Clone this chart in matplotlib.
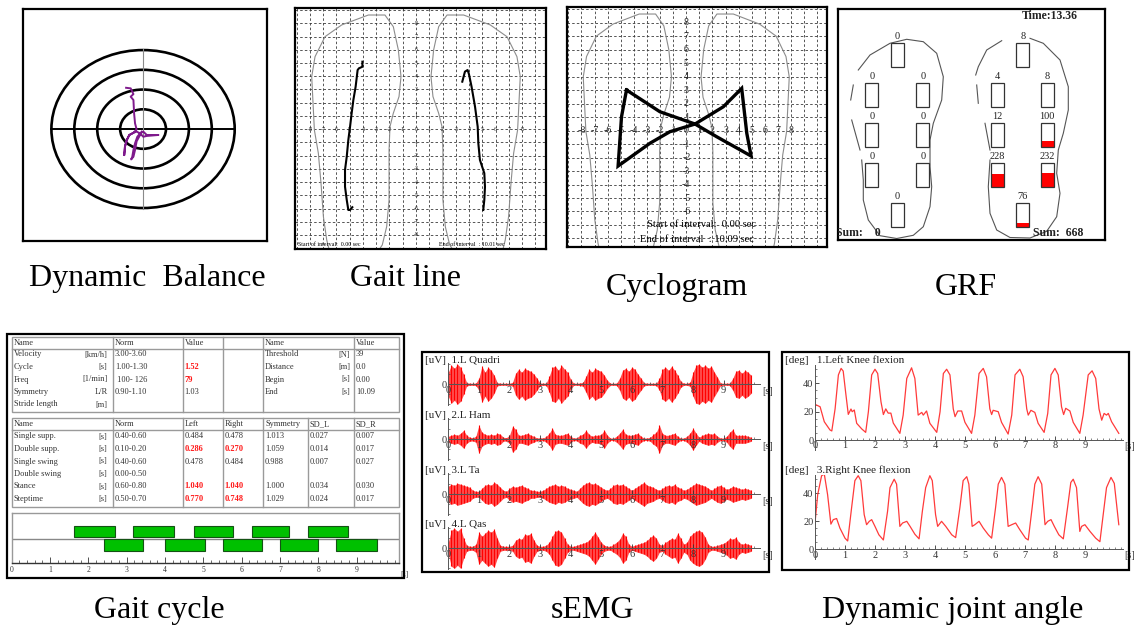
import numpy as np
import matplotlib
matplotlib.use("Agg")
import matplotlib.pyplot as plt
from matplotlib.patches import Rectangle, Ellipse
from matplotlib.ticker import MultipleLocator

# ------------------------------------------------------------------ data
# Dynamic balance: centre-of-pressure trace (ring units)
balance_rings = [1, 2, 3, 4]
cop_x = [-0.74, -0.54, -0.42, -0.54, -0.42, -0.39, -0.35, -0.28, -0.42, -0.60, -0.71, -0.79, -0.82,
         -0.79, -0.71, -0.60, -0.42, -0.28, -0.13, 0.01, 0.16, 0.45, 0.67, 0.16, 0.01, -0.13, -0.25,
         -0.35, -0.42, -0.47, -0.52, -0.42, -0.35, -0.28, -0.13, -0.06]
cop_y = [2.09, 2.06, 1.77, 1.64, 1.47, 0.79, 0.29, -0.02, -0.19, -0.30, -0.56, -0.89, -1.32,
         -0.89, -0.56, -0.30, -0.19, -0.13, -0.22, -0.13, -0.30, -0.30, -0.30, -0.35, -0.39, -0.22, -0.39,
         -0.72, -1.06, -1.40, -1.54, -1.40, -1.06, -0.62, -0.30, -0.13]

# Left insole outline (right insole is its mirror image)
sole_x = [-6.45, -6.73, -6.98, -7.16, -7.36, -7.66, -7.86, -7.61, -6.86, -5.60, -3.59, -2.34, -1.71,
          -1.33, -1.13, -1.28, -1.71, -1.96, -2.03, -2.03, -2.21, -2.54, -3.10, -4.60, -6.45]
sole_y = [-9.50, -8.37, -6.61, -4.09, -1.82, -0.06, 3.97, 5.48, 6.99, 7.88, 8.63, 8.63, 7.75,
          5.99, 3.97, 2.46, 1.20, 0.19, -1.57, -5.35, -7.37, -8.75, -9.60, -10.2, -9.50]

# Gait line (centre of pressure path under each foot)
gait_left_x = [-4.04, -4.04, -4.30, -4.40, -4.55, -4.72, -4.85, -4.97, -5.10, -5.22, -5.35, -5.35, -5.22, -5.10, -4.97, -4.80]
gait_left_y = [5.10, 4.72, 4.60, 4.47, 3.21, 2.21, 1.20, 0.19, -0.82, -2.08, -3.08, -4.35, -5.35, -6.11, -6.11, -5.90]
gait_right_x = [3.49, 3.69, 3.89, 3.99, 4.19, 4.45, 4.65, 4.70, 4.82, 5.15, 5.20, 5.15, 5.07]
gait_right_y = [3.59, 4.35, 4.47, 4.17, 3.21, 1.70, 0.19, -1.07, -2.33, -3.33, -4.35, -5.35, -6.11]

# Cyclogram (butterfly diagram)
cyclo_x = [-4.56, -2.01, 0.67, 2.32, 4.95, 4.62, 4.23, 2.83, 0.67, -1.25, -2.78, -5.20, -4.94, -4.56]
cyclo_y = [3.00, 1.39, 0.48, -0.46, -1.89, -0.21, 3.12, 1.76, 0.48, -0.09, -0.95, -2.63, 1.02, 3.00]

# Ground reaction force per insole sensor [N]
grf_left = [0, 0, 0, 0, 0, 0, 0, 0]
grf_right = [8, 4, 8, 12, 100, 228, 232, 76]
grf_full_scale = 400
grf_time = "13.36"

# Gait cycle tables
t1_rows = [("Velocity", "[km/h]", "3.00-3.60", ""),
           ("Cycle", "[s]", "1.00-1.30", "1.52"),
           ("Freq", "[1/min]", " 100- 126", "79"),
           ("Symmetry", "L/R", "0.90-1.10", "1.03"),
           ("Stride length", "[m]", "", "")]
t1_flag = [False, True, True, False, False]
t1_right = [("Threshold", "[N]", "39"), ("Distance", "[m]", "0.0"),
            ("Begin", "[s]", "0.00"), ("End", "[s]", "10.09")]
t2_names = ["Single supp.", "Double supp.", "Single swing", "Double swing", "Stance", "Steptime"]
t2_norm = ["0.40-0.60", "0.10-0.20", "0.40-0.60", "0.00-0.50", "0.60-0.80", "0.50-0.70"]
t2_left = ["0.484", "0.286", "0.478", "", "1.040", "0.770"]
t2_right = ["0.478", "0.270", "0.484", "", "1.040", "0.748"]
t2_sym = ["1.013", "1.059", "0.988", "", "1.000", "1.029"]
t2_sdl = ["0.027", "0.014", "0.007", "", "0.034", "0.024"]
t2_sdr = ["0.007", "0.017", "0.027", "", "0.030", "0.017"]
t2_flag = [False, True, False, False, True, True]

# Stance phases [s]
stance_a_start = [1.63, 3.17, 4.75, 6.26, 7.74]
stance_a_end = [2.70, 4.23, 5.76, 7.24, 8.76]
stance_b_start = [2.42, 3.99, 5.52, 7.00, 8.46]
stance_b_end = [3.43, 5.03, 6.52, 8.00, 9.54]

# sEMG amplitude envelopes (fraction of full scale), one value per 0.1 s
emg_t = np.round(np.arange(0, 100) * 0.1, 1)
emg_quadri = [0.60, 0.95, 0.80, 1.00, 0.85, 0.50, 0.08, 0.05, 0.05, 0.06,
              0.30, 0.90, 0.60, 0.85, 0.70, 0.45, 0.08, 0.05, 0.05, 0.05,
              0.05, 0.10, 0.55, 0.75, 0.60, 0.80, 0.70, 0.65, 0.50, 0.30,
              0.06, 0.05, 0.06, 0.40, 0.85, 0.90, 0.70, 0.95, 0.75, 0.60,
              0.25, 0.05, 0.05, 0.06, 0.10, 0.40, 0.75, 0.60, 0.80, 0.70,
              0.65, 0.45, 0.20, 0.05, 0.05, 0.06, 0.30, 0.70, 0.80, 0.65,
              0.85, 0.75, 0.50, 0.30, 0.08, 0.05, 0.05, 0.05, 0.06, 0.30,
              0.75, 0.85, 0.70, 0.90, 0.70, 0.45, 0.15, 0.05, 0.05, 0.10,
              0.60, 0.95, 1.00, 0.85, 0.95, 0.80, 0.90, 0.60, 0.35, 0.06,
              0.05, 0.05, 0.06, 0.30, 0.65, 0.70, 0.55, 0.70, 0.60, 0.45]
emg_ham = [0.15, 0.20, 0.25, 0.20, 0.30, 0.45, 0.20, 0.10, 0.08, 0.15,
           0.70, 0.35, 0.25, 0.20, 0.25, 0.20, 0.30, 0.25, 0.10, 0.08,
           0.20, 0.65, 0.50, 0.20, 0.20, 0.25, 0.30, 0.20, 0.15, 0.06,
           0.08, 0.06, 0.15, 0.30, 0.55, 0.25, 0.20, 0.20, 0.25, 0.30,
           0.15, 0.06, 0.08, 0.20, 0.25, 0.45, 0.25, 0.15, 0.20, 0.20,
           0.25, 0.45, 0.20, 0.06, 0.06, 0.15, 0.30, 0.50, 0.25, 0.20,
           0.20, 0.25, 0.30, 0.15, 0.06, 0.06, 0.10, 0.25, 0.35, 0.70,
           0.30, 0.20, 0.20, 0.25, 0.30, 0.15, 0.06, 0.06, 0.15, 0.30,
           0.55, 0.30, 0.10, 0.20, 0.25, 0.30, 0.25, 0.30, 0.15, 0.06,
           0.06, 0.15, 0.35, 0.50, 0.20, 0.20, 0.20, 0.20, 0.15, 0.10]
emg_ta = [0.40, 0.50, 0.45, 0.55, 0.50, 0.45, 0.40, 0.35, 0.20, 0.15,
          0.15, 0.30, 0.45, 0.50, 0.45, 0.60, 0.50, 0.35, 0.20, 0.15,
          0.30, 0.40, 0.35, 0.40, 0.45, 0.35, 0.30, 0.20, 0.20, 0.15,
          0.15, 0.20, 0.30, 0.40, 0.45, 0.50, 0.40, 0.45, 0.40, 0.30,
          0.25, 0.20, 0.15, 0.30, 0.45, 0.55, 0.60, 0.50, 0.55, 0.45,
          0.35, 0.25, 0.20, 0.30, 0.45, 0.50, 0.45, 0.50, 0.40, 0.30,
          0.20, 0.30, 0.40, 0.50, 0.60, 0.45, 0.40, 0.35, 0.25, 0.20,
          0.30, 0.40, 0.45, 0.40, 0.50, 0.35, 0.30, 0.20, 0.25, 0.35,
          0.45, 0.55, 0.50, 0.45, 0.40, 0.30, 0.20, 0.30, 0.40, 0.45,
          0.35, 0.25, 0.30, 0.40, 0.35, 0.30, 0.25, 0.30, 0.25, 0.20]
emg_qas = [0.30, 0.90, 1.00, 0.85, 1.00, 0.50, 0.15, 0.10, 0.10, 0.20,
           0.80, 0.60, 0.75, 0.90, 0.80, 0.95, 0.50, 0.15, 0.10, 0.10,
           0.10, 0.15, 0.40, 0.50, 0.45, 0.70, 0.65, 0.75, 0.40, 0.15,
           0.10, 0.10, 0.15, 0.30, 0.60, 0.85, 0.90, 0.80, 0.50, 0.20,
           0.10, 0.10, 0.15, 0.20, 0.25, 0.30, 0.40, 0.60, 0.80, 0.55,
           0.30, 0.15, 0.10, 0.10, 0.20, 0.30, 0.45, 0.75, 0.60, 0.20,
           0.10, 0.15, 0.20, 0.25, 0.30, 0.40, 0.55, 0.65, 0.50, 0.20,
           0.15, 0.30, 0.40, 0.50, 0.45, 0.75, 0.50, 0.20, 0.30, 0.60,
           0.75, 0.85, 0.90, 0.80, 0.55, 0.20, 0.10, 0.10, 0.15, 0.20,
           0.25, 0.35, 0.50, 0.45, 0.55, 0.30, 0.20, 0.25, 0.20, 0.15]
emg_names = ["[uV]  1.L Quadri", "[uV]  2.L Ham", "[uV]  3.L Ta", "[uV]  4.L Qas"]

# Knee flexion angle [deg]
knee_l_t = [0, 0.17, 0.31, 0.5, 0.56, 0.67, 0.78, 0.87, 0.94, 1.02, 1.11, 1.2, 1.24, 1.31, 1.39, 1.56, 1.69,
            1.78, 1.89, 2.0, 2.09, 2.2, 2.28, 2.36, 2.44, 2.53, 2.61, 2.83, 2.94, 3.06, 3.22, 3.33, 3.44,
            3.56, 3.61, 3.72, 3.83, 4.06, 4.17, 4.28, 4.39, 4.5, 4.61, 4.67, 4.76, 4.89, 5.0, 5.22, 5.33,
            5.47, 5.61, 5.72, 5.83, 5.89, 5.94, 6.11, 6.22, 6.44, 6.56, 6.67, 6.83, 6.94, 7.06, 7.11, 7.2,
            7.33, 7.44, 7.64, 7.76, 7.87, 8.0, 8.11, 8.22, 8.29, 8.36, 8.5, 8.61, 8.83, 8.94, 9.11, 9.24,
            9.36, 9.47, 9.56, 9.64, 9.72, 9.78, 9.89, 10.13]
knee_l_deg = [25.2, 23.5, 12.9, 7.1, 6.4, 22.0, 46.0, 50.6, 48.7, 34.0, 18.1, 21.9, 20.0, 21.2, 11.8, 7.8, 5.4,
              20.0, 46.0, 50.0, 47.0, 27.0, 18.0, 22.0, 19.0, 19.0, 12.0, 4.7, 17.6, 43.5, 51.0, 43.5, 17.6,
              19.5, 17.6, 20.5, 11.8, 5.4, 20.0, 47.0, 50.0, 46.0, 22.0, 16.5, 20.5, 20.5, 12.5, 4.7, 17.6,
              47.0, 50.6, 44.7, 22.0, 18.0, 21.0, 20.0, 12.5, 4.2, 17.6, 46.0, 50.0, 44.7, 22.0, 17.6, 21.0,
              19.5, 11.8, 5.4, 18.8, 46.0, 50.6, 46.0, 23.5, 18.0, 22.4, 20.5, 12.5, 4.7, 17.6, 46.0, 48.9,
              43.5, 22.0, 14.0, 18.8, 17.6, 18.8, 12.9, 4.7]
knee_r_t = [0, 0.09, 0.22, 0.31, 0.42, 0.53, 0.61, 0.72, 0.83, 1.0, 1.09, 1.22, 1.33, 1.44, 1.53, 1.64, 1.72,
            1.81, 1.89, 2.0, 2.13, 2.28, 2.42, 2.5, 2.64, 2.72, 2.83, 2.92, 3.06, 3.17, 3.33, 3.47, 3.58,
            3.69, 3.83, 3.91, 4.02, 4.09, 4.22, 4.36, 4.56, 4.69, 4.83, 4.94, 5.06, 5.13, 5.24, 5.33, 5.47,
            5.61, 5.78, 5.89, 6.02, 6.11, 6.22, 6.33, 6.44, 6.56, 6.69, 6.83, 7.02, 7.11, 7.24, 7.33, 7.44,
            7.56, 7.67, 7.76, 7.87, 7.98, 8.13, 8.28, 8.42, 8.53, 8.61, 8.72, 8.83, 8.89, 9.0, 9.17, 9.36,
            9.5, 9.61, 9.72, 9.87, 9.98, 10.13]
knee_r_deg = [18.8, 39.0, 52.5, 53.7, 39.0, 18.0, 21.2, 22.0, 15.2, 8.0, 6.0, 29.6, 49.0, 52.5, 49.0, 24.8, 17.6,
              20.0, 21.2, 16.4, 10.4, 6.7, 27.2, 44.0, 50.0, 46.5, 16.4, 18.8, 20.0, 16.4, 10.8, 7.5, 27.2,
              44.0, 52.5, 49.0, 24.8, 16.4, 20.0, 16.4, 10.4, 8.4, 29.6, 49.0, 51.8, 46.5, 16.4, 17.6, 20.0,
              15.2, 10.4, 8.0, 29.6, 46.5, 51.3, 46.5, 16.4, 17.6, 18.8, 14.0, 8.0, 6.7, 29.6, 46.5, 51.8,
              46.5, 17.6, 20.0, 21.2, 16.4, 10.4, 7.5, 29.6, 47.7, 50.0, 44.0, 12.8, 16.4, 17.6, 12.8, 8.0,
              5.5, 24.8, 44.0, 51.3, 47.0, 17.6]

# ------------------------------------------------------------------ figure
W, H = 1137, 632
SERIF = ["Liberation Serif", "DejaVu Serif"]
plt.rcParams["font.family"] = SERIF

fig = plt.figure(figsize=(W / 100, H / 100), dpi=100)
fig.patch.set_facecolor("white")


def box(x0, y0, x1, y1):
    """Axes placed by pixel corners (origin top-left)."""
    a = fig.add_axes([x0 / W, 1 - y1 / H, (x1 - x0) / W, (y1 - y0) / H])
    a.patch.set_alpha(0)
    return a


def frame(a, lw=1.6, color="black"):
    a.set_xticks([])
    a.set_yticks([])
    for s in a.spines.values():
        s.set_linewidth(lw)
        s.set_color(color)


# ---- Dynamic balance
ax = box(23, 9, 267, 241)
ax.set_xlim(-5.24, 5.41)
ax.set_ylim(-5.67, 6.08)
for r in balance_rings:
    ax.add_patch(Ellipse((0, 0), 2 * r, 2 * r, fill=False, ec="black", lw=1.9))
ax.plot([-4, 4], [0, 0], color="black", lw=1.4)
ax.plot([0, 0], [-4.05, 4.05], color="#8a8a8a", lw=0.8)
ax.plot(cop_x, cop_y, color="#7f1a8c", lw=1.4, solid_joinstyle="round")
frame(ax)


def insole_grid(a, xlim, ylim, label_size, ylab_range, lab_color="#222222"):
    a.set_xlim(*xlim)
    a.set_ylim(*ylim)
    dash = (0, (3.0, 2.6))
    for v in range(int(np.floor(xlim[0])), int(np.ceil(xlim[1])) + 1):
        a.axvline(v, color="#3a3a3a", lw=0.6, ls=dash, zorder=1)
    for v in range(int(np.floor(ylim[0])), int(np.ceil(ylim[1])) + 1):
        a.axhline(v, color="#3a3a3a", lw=0.6, ls=dash, zorder=1)
    for v in range(-8, 9):
        a.text(v, 0, str(v), ha="center", va="center", fontsize=label_size, color=lab_color, zorder=3)
    for v in ylab_range:
        if v != 0:
            a.text(0, v, str(v), ha="center", va="center", fontsize=label_size, color=lab_color, zorder=3)
    a.plot(sole_x, sole_y, color="#8c8c8c", lw=0.8, zorder=2)
    a.plot([-x for x in sole_x], sole_y, color="#8c8c8c", lw=0.8, zorder=2)
    frame(a)


# ---- Gait line
ax = box(295, 8, 546, 249)
insole_grid(ax, (-9.12, 9.80), (-9.06, 9.16), 4.3, range(-8, 9))
ax.plot(gait_left_x, gait_left_y, color="black", lw=1.5, zorder=4)
ax.plot(gait_right_x, gait_right_y, color="black", lw=1.5, zorder=4)
ax.text(-8.89, -8.75, "Start of interval:  0.00 sec", fontsize=4.3, ha="left", va="center", zorder=4)
ax.text(1.73, -8.75, "End of interval  : 10.01 sec", fontsize=4.3, ha="left", va="center", zorder=4)

# ---- Cyclogram
ax = box(567, 7, 827, 247)
insole_grid(ax, (-9.1, 10.74), (-8.63, 9.15), 7.2, range(-6, 9))
ax.plot(cyclo_x, cyclo_y, color="black", lw=2.4, zorder=4, solid_joinstyle="miter")
ax.text(-3.0, -6.93, "Start of interval:  0.00 sec", fontsize=7.6, ha="left", va="center", zorder=4)
ax.text(-3.54, -8.04, "End of interval  : 10.09 sec", fontsize=7.6, ha="left", va="center", zorder=4)

# ---- GRF (local pixel frame of the panel)
ax = box(838, 9, 1105, 240)
ax.set_xlim(0, 267)
ax.set_ylim(231, 0)
frame(ax)
sw, sh = 13.3, 24.0
left_cells = [(59.4, 34.3), (33.7, 74.3), (84.7, 74.3), (33.7, 114.3), (84.7, 114.3),
              (33.7, 154.3), (84.7, 154.3), (59.4, 194.3)]
right_cells = [(184.7, 34.3), (159.3, 74.3), (209.3, 74.3), (159.3, 114.3), (209.3, 114.3),
               (159.3, 154.3), (209.3, 154.3), (184.3, 194.3)]
for cells, vals in ((left_cells, grf_left), (right_cells, grf_right)):
    for (cx, top), v in zip(cells, vals):
        frac = min(v / grf_full_scale, 1.0)
        if frac > 0:
            ax.add_patch(Rectangle((cx - sw / 2, top + sh * (1 - frac)), sw, sh * frac,
                                   fc="red", ec="none", zorder=2))
        ax.add_patch(Rectangle((cx - sw / 2, top), sw, sh, fill=False, ec="#333333", lw=0.9, zorder=3))
        ax.text(cx, top - 6.5, str(v), ha="center", va="center", fontsize=7.5, color="#222222")

grf_outline_style = dict(color="#555555", lw=0.8)
ax.plot([20.3, 32, 52, 68.7, 85.3, 98.7, 105.3, 103.7, 95.3, 92, 92, 93.7, 92, 85.3, 75.3, 58.7, 42, 30.3,
         25.3, 25.3, 23.7],
        [61, 46, 34.3, 30.3, 32.7, 44.3, 67.7, 91, 114.3, 131, 157.7, 177.7, 197.7, 217.7, 226.3, 229.5,
         226.7, 211, 191, 171, 151], **grf_outline_style)
ax.plot([15.3, 12.7], [76, 91], **grf_outline_style)
ax.plot([13.7, 22], [111, 141], **grf_outline_style)
ax.plot([163.7, 148.7, 140.3, 137.7], [31.7, 41, 57.7, 66], **grf_outline_style)
ax.plot([192, 205.3, 222, 230.3, 230.3, 225.3, 220.3, 218.7, 222, 218.7, 208.7, 192, 172, 158.7, 152,
         150.3, 152],
        [29.3, 34.3, 51, 77.7, 101, 124.3, 141, 164.3, 184.3, 207.7, 222.3, 229.0, 228.5, 221, 204.3,
         177.7, 151], **grf_outline_style)
ax.plot([138.7, 140.3], [76, 94.3], **grf_outline_style)
ax.plot([147, 152], [114.3, 141], **grf_outline_style)
ax.text(212, 6.8, "Time:" + grf_time, ha="center", va="center", fontsize=8.5, fontweight="bold",
        color="#222222")
ax.text(-2, 224, "Sum:    %d" % sum(grf_left), ha="left", va="center", fontsize=8.5,
        fontweight="bold", color="#222222", clip_on=True)
ax.text(245, 224, "Sum:  %d" % sum(grf_right), ha="right", va="center", fontsize=8.5,
        fontweight="bold", color="#222222")

# ---- Gait cycle chart
ax = box(11.7, 513, 399.3, 563)
ax.set_xlim(0, 10.11)
ax.set_ylim(0, 50)
ax.barh([31.5] * len(stance_a_start), np.subtract(stance_a_end, stance_a_start), left=stance_a_start,
        height=11.6, color="#00c000", edgecolor="#145214", lw=0.8, zorder=3)
ax.barh([17.85] * len(stance_b_start), np.subtract(stance_b_end, stance_b_start), left=stance_b_start,
        height=11.6, color="#00c000", edgecolor="#145214", lw=0.8, zorder=3)
ax.axhline(23.7, color="#888888", lw=1.0, zorder=2)
for s in ("top", "left", "right"):
    ax.spines[s].set_color("#999999")
    ax.spines[s].set_linewidth(1.0)
ax.spines["bottom"].set_color("#333333")
ax.spines["bottom"].set_linewidth(1.0)
ax.set_yticks([])
ax.set_xticks(range(0, 10))
ax.xaxis.set_minor_locator(MultipleLocator(0.2))
ax.tick_params(axis="x", which="major", direction="in", length=4, width=0.6, labelsize=5.5, pad=2,
               colors="#333333")
ax.tick_params(axis="x", which="minor", direction="in", length=2, width=0.5, colors="#333333")
ax.text(10.13, -8, "[s]", fontsize=5.5, ha="left", va="top", color="#333333", clip_on=False)

# ---- sEMG
emg_series = [emg_quadri, emg_ham, emg_ta, emg_qas]
emg_zero_px = [384.3, 439.3, 494.3, 548.3]
for name, env, y0 in zip(emg_names, emg_series, emg_zero_px):
    ax = box(448.3, y0 - 22, 760, y0 + 22)
    ax.set_xlim(0, 10.19)
    ax.set_ylim(-1.1, 1.1)
    env = np.asarray(env)
    ax.fill_between(emg_t, -env, env, color="#ff2020", alpha=0.8, lw=0, zorder=1)
    ax.vlines(emg_t, -env, env, color="#ff0000", lw=0.8, zorder=1.5)
    ax.plot(emg_t, np.zeros_like(emg_t), color="#ff0000", lw=0.8, zorder=1.6)
    for s in ("top", "right"):
        ax.spines[s].set_visible(False)
    ax.spines["left"].set_position(("data", 0))
    ax.spines["bottom"].set_position(("data", 0))
    ax.spines["left"].set_bounds(-1.05, 1.05)
    for s in ("left", "bottom"):
        ax.spines[s].set_color("#555555")
        ax.spines[s].set_linewidth(0.7)
    ax.set_xticks(range(0, 10))
    ax.set_yticks([0])
    ax.xaxis.set_minor_locator(MultipleLocator(0.2))
    ax.yaxis.set_minor_locator(MultipleLocator(0.5))
    ax.tick_params(axis="both", which="major", direction="in", length=3, width=0.6, labelsize=7.5,
                   pad=1, colors="#333333")
    ax.tick_params(axis="both", which="minor", direction="in", length=1.5, width=0.5, colors="#555555")
    ax.text(10.25, -0.15, "[s]", fontsize=7.5, ha="left", va="top", color="#333333", clip_on=False)
    fig.text(425 / W, 1 - (y0 - 24) / H, name, fontsize=8, ha="left", va="center", color="#222222")

# ---- Dynamic joint angle
for title, tt, dd, (top, zero) in (("[deg]   1.Left Knee flexion", knee_l_t, knee_l_deg, (365, 440.0)),
                                   ("[deg]   3.Right Knee flexion", knee_r_t, knee_r_deg, (475, 549.3))):
    ax = box(815, top, 1123, zero + 7 * 1.417)
    ax.set_xlim(0, 10.27)
    ax.set_ylim(-7, 53)
    ax.plot(tt, dd, color="#ff3a3a", lw=0.9)
    for s in ("top", "right"):
        ax.spines[s].set_visible(False)
    ax.spines["bottom"].set_position(("data", 0))
    for s in ("left", "bottom"):
        ax.spines[s].set_color("#555555")
        ax.spines[s].set_linewidth(0.7)
    ax.set_xticks(range(0, 10))
    ax.set_yticks([0, 20, 40])
    ax.xaxis.set_minor_locator(MultipleLocator(0.2))
    ax.yaxis.set_minor_locator(MultipleLocator(5))
    ax.tick_params(axis="both", which="major", direction="in", length=3, width=0.6, labelsize=7.5,
                   pad=1, colors="#333333")
    ax.tick_params(axis="both", which="minor", direction="in", length=1.5, width=0.5, colors="#555555")
    ax.text(10.3, -1.5, "[s]", fontsize=7.5, ha="left", va="top", color="#333333", clip_on=False)
    fig.text(785 / W, 1 - (top - 5) / H, title, fontsize=8, ha="left", va="center", color="#222222")

# ------------------------------------------------------------------ overlay: tables, frames, captions
ov = fig.add_axes([0, 0, 1, 1])
ov.set_xlim(0, W)
ov.set_ylim(H, 0)
ov.axis("off")
ov.patch.set_visible(False)

grey = "#9a9a9a"
txt = dict(fontsize=6, va="center", color="#333333")
red = dict(fontsize=6, va="center", color="#ff1a1a", fontweight="bold")


def hline(y, x0, x1, **kw):
    ov.plot([x0, x1], [y, y], color=kw.get("color", grey), lw=kw.get("lw", 1.0))


def vline(x, y0, y1, **kw):
    ov.plot([x, x], [y0, y1], color=kw.get("color", grey), lw=kw.get("lw", 1.0))


# table 1
ov.add_patch(Rectangle((12, 337), 387, 75, fill=False, ec=grey, lw=1.0))
hline(349, 12, 399)
for x in (112.7, 182.7, 223.3, 263.3, 354):
    vline(x, 337, 412)
for x, s in ((14, "Name"), (115, "Norm"), (184.5, "Value"), (265, "Name"), (356, "Value")):
    ov.text(x, 343, s, ha="left", **txt)
row_y1 = [354.5, 367, 379.5, 392, 404.5]
for y, (nm, unit, norm, val), hot in zip(row_y1, t1_rows, t1_flag):
    ov.text(14, y, nm, ha="left", **txt)
    ov.text(107.5, y, unit, ha="right", **txt)
    ov.text(115, y, norm, ha="left", **txt)
    ov.text(184.5, y, val, ha="left", **(red if hot else txt))
for y, (nm, unit, val) in zip(row_y1, t1_right):
    ov.text(265, y, nm, ha="left", **txt)
    ov.text(350, y, unit, ha="right", **txt)
    ov.text(356, y, val, ha="left", **txt)

# table 2
ov.add_patch(Rectangle((12, 418), 387, 89, fill=False, ec=grey, lw=1.0))
hline(430, 12, 399)
for x in (112.7, 182.7, 222.7, 263.3, 308.3, 354):
    vline(x, 418, 507)
for x, s in ((14, "Name"), (115, "Norm"), (184.5, "Left"), (224.5, "Right"), (265, "Symmetry"),
             (310, "SD_L"), (356, "SD_R")):
    ov.text(x, 424, s, ha="left", **txt)
row_y2 = [436.5, 449, 461.5, 474, 486.5, 499]
for i, y in enumerate(row_y2):
    ov.text(14, y, t2_names[i], ha="left", **txt)
    ov.text(107.5, y, "[s]", ha="right", **txt)
    ov.text(115, y, t2_norm[i], ha="left", **txt)
    st = red if t2_flag[i] else txt
    ov.text(184.5, y, t2_left[i], ha="left", **st)
    ov.text(224.5, y, t2_right[i], ha="left", **st)
    ov.text(265, y, t2_sym[i], ha="left", **txt)
    ov.text(310, y, t2_sdl[i], ha="left", **txt)
    ov.text(356, y, t2_sdr[i], ha="left", **txt)

# panel frames
for (x0, y0, x1, y1) in ((7, 334, 404, 578), (422, 352, 769, 572), (782, 352, 1129, 570)):
    ov.add_patch(Rectangle((x0, y0), x1 - x0, y1 - y0, fill=False, ec="black", lw=1.6))

# captions
cap = dict(fontsize=23, ha="center", va="baseline", color="black")
ov.text(147, 286, "Dynamic  Balance", **cap)
ov.text(406, 286, "Gait line", **cap)
ov.text(677, 295, "Cyclogram", **cap)
ov.text(966, 295, "GRF", **cap)
ov.text(159, 618, "Gait cycle", **cap)
ov.text(592, 618, "sEMG", **cap)
ov.text(953, 618, "Dynamic joint angle", **cap)

fig.savefig("out.png", dpi=100, facecolor="white")
